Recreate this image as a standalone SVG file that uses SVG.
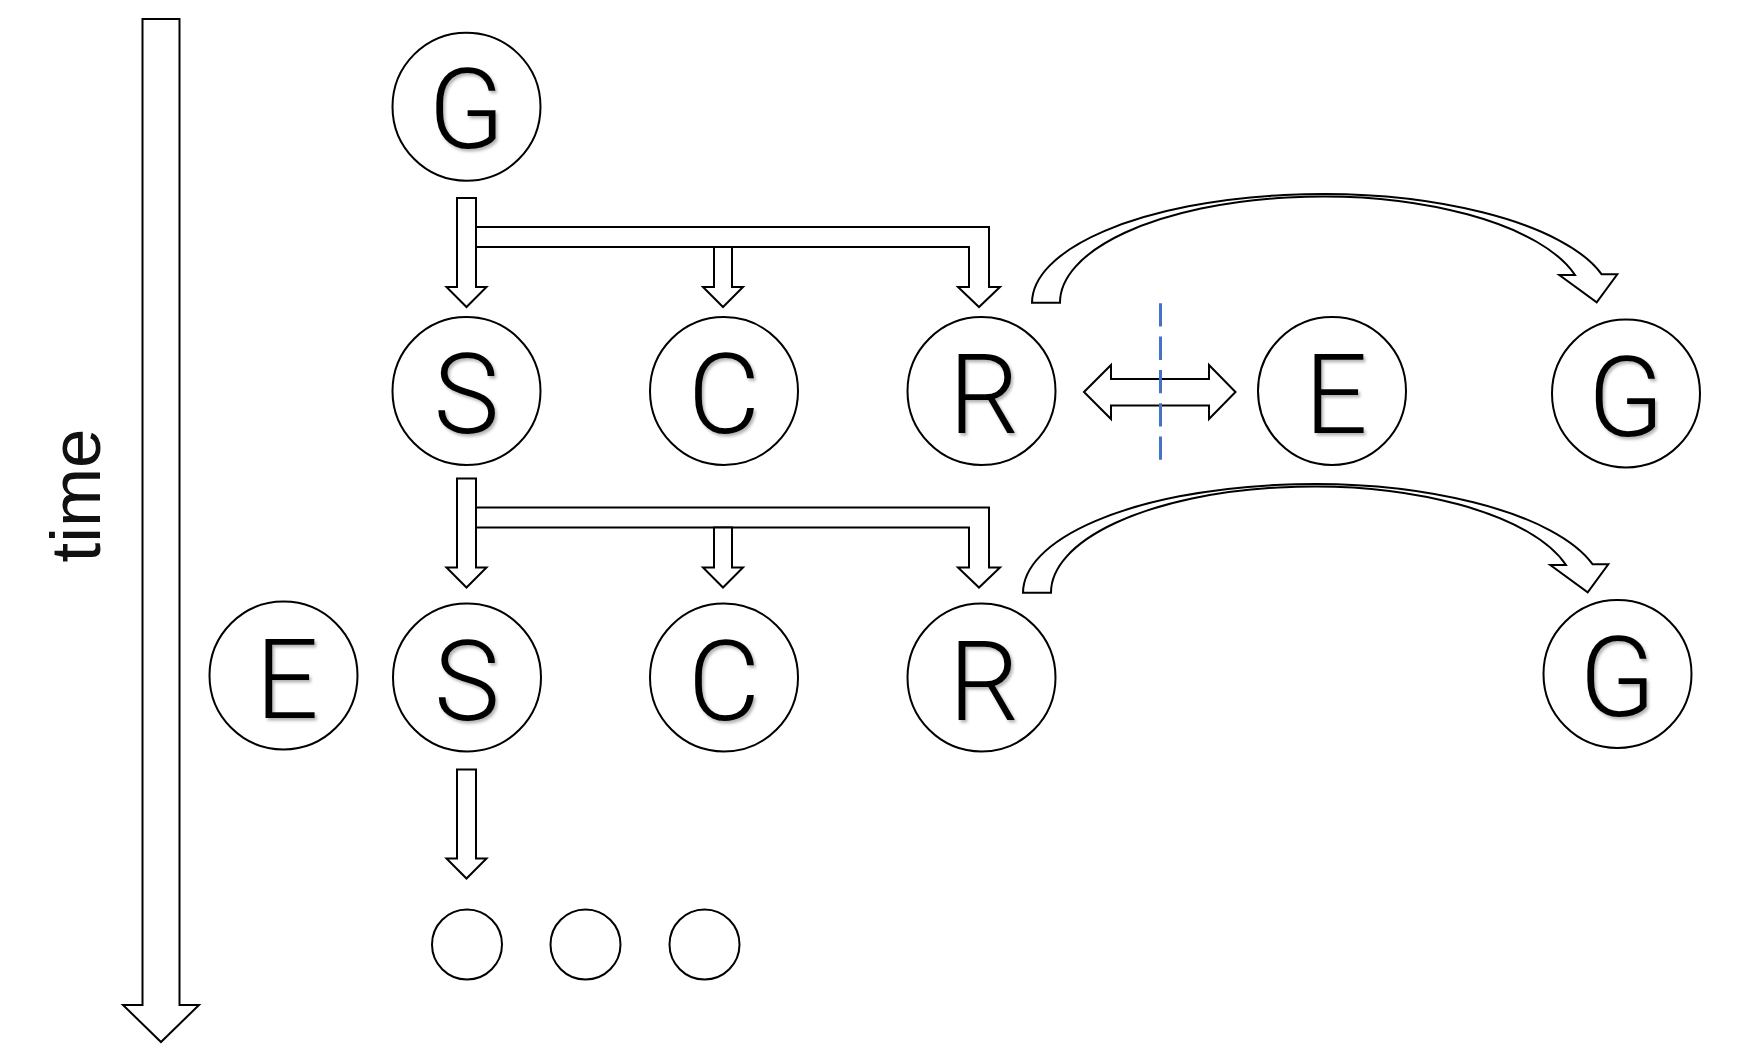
<svg xmlns="http://www.w3.org/2000/svg" width="1740" height="1044" viewBox="0 0 1740 1044">
<defs>
<filter id="sh" x="-20%" y="-20%" width="150%" height="150%">
<feDropShadow dx="2" dy="2.5" stdDeviation="1.6" flood-color="#000" flood-opacity="0.3"/>
</filter>
<style>
.n{fill:#fff;stroke:#000;stroke-width:2}
.t{font-family:Roboto,"Liberation Sans",sans-serif;font-weight:300;font-size:111px;text-anchor:middle;fill:#000;filter:url(#sh)}
.a{fill:#fff;stroke:#000;stroke-width:2;stroke-linejoin:miter}
</style>
</defs>
<rect width="1740" height="1044" fill="#fff"/>

<!-- time axis -->
<g id="time-axis">
<polygon class="a" points="142.5,19 179.5,19 179.5,1005 199,1005 161,1042 123,1005 142.5,1005"/>
<text x="0" y="0" transform="translate(100,495.5) rotate(-90)" font-family="'Liberation Sans',Arial,sans-serif" font-size="71" text-anchor="middle" fill="#111">time</text>
</g>

<g id="connectors">
<!-- row 1 fork -->
<g id="fork1">
<polygon class="a" points="457,198 476,198 476,287 486.5,287 466.5,307 446.5,287 457,287"/>
<polygon class="a" points="476,227 989,227 989,287 1000,287 979,307 958,287 969,287 969,247 476,247"/>
<polygon class="a" points="714,247 732,247 732,287 743,287 723,307 703,287 714,287"/>
</g>
<!-- row 2 fork -->
<g id="fork2" transform="translate(0,280.5)">
<polygon class="a" points="457,198 476,198 476,287 486.5,287 466.5,307 446.5,287 457,287"/>
<polygon class="a" points="476,227 989,227 989,287 1000,287 979,307 958,287 969,287 969,247 476,247"/>
<polygon class="a" points="714,247 732,247 732,287 743,287 723,307 703,287 714,287"/>
</g>
<!-- row 3 arrow -->
<polygon class="a" transform="translate(0,571.5)" points="457,198 476,198 476,287 486.5,287 466.5,307 446.5,287 457,287"/>

<!-- curved arrows R -> G -->
<path id="curve1" class="a" d="M1032,302.7 A290,109 0 0 1 1601.7,274.3 L1617.3,274.3 L1596.7,302.3 L1559.3,275 L1575,275 A262,106 0 0 0 1060,302.7 Z"/>
<path id="curve2" class="a" transform="translate(-9,290)" d="M1032,302.7 A290,109 0 0 1 1601.7,274.3 L1617.3,274.3 L1596.7,302.3 L1559.3,275 L1575,275 A262,106 0 0 0 1060,302.7 Z"/>

<!-- double arrow R <-> E -->
<polygon class="a" points="1084,392 1111,365 1111,379 1209,379 1209,365 1235.5,392 1209,419 1209,405.5 1111,405.5 1111,419"/>
<line x1="1160.5" y1="303.3" x2="1160.5" y2="460" stroke="#4472C4" stroke-width="3" stroke-dasharray="23.3 10"/>
</g>

<!-- row 1 nodes -->
<g id="G0"><circle class="n" cx="466.5" cy="106.7" r="74"/><text class="t" x="466.5" y="148">G</text></g>
<g id="S1"><circle class="n" cx="466.5" cy="391" r="74"/><text class="t" x="466.5" y="433">S</text></g>
<g id="C1"><circle class="n" cx="724" cy="391" r="74"/><text class="t" x="724" y="433">C</text></g>
<g id="R1"><circle class="n" cx="981.5" cy="391" r="74"/><text class="t" x="984" y="433">R</text></g>
<g id="E1"><circle class="n" cx="1332" cy="391" r="74"/><text class="t" x="1336" y="433">E</text></g>
<g id="G1"><circle class="n" cx="1626" cy="393.5" r="74"/><text class="t" x="1626" y="435.5">G</text></g>

<!-- row 2 nodes -->
<g id="E2"><circle class="n" cx="283.5" cy="675.5" r="74"/><text class="t" x="287" y="717.5">E</text></g>
<g id="S2"><circle class="n" cx="467" cy="677.5" r="74"/><text class="t" x="467" y="719.5">S</text></g>
<g id="C2"><circle class="n" cx="724" cy="677.5" r="74"/><text class="t" x="724" y="719.5">C</text></g>
<g id="R2"><circle class="n" cx="981.5" cy="677.5" r="74"/><text class="t" x="984" y="719.5">R</text></g>
<g id="G2"><circle class="n" cx="1617.5" cy="674" r="74"/><text class="t" x="1617.5" y="716">G</text></g>

<!-- row 3 placeholders -->
<g id="D1"><circle class="n" cx="467" cy="944.5" r="35"/></g>
<g id="D2"><circle class="n" cx="585.5" cy="944.5" r="35"/></g>
<g id="D3"><circle class="n" cx="704.5" cy="944.5" r="35"/></g>
</svg>
